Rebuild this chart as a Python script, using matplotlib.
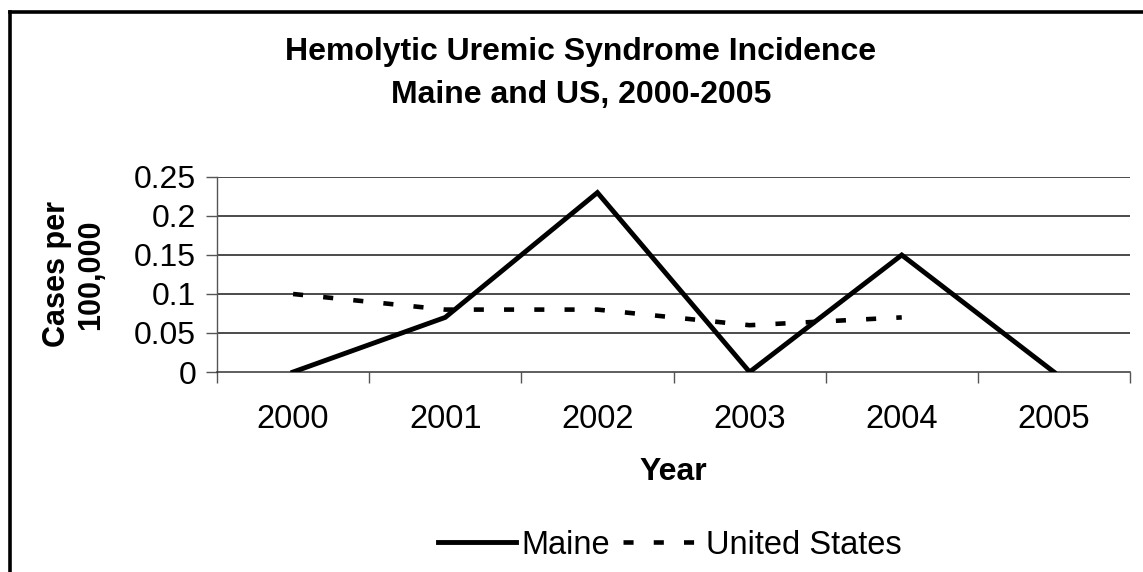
import matplotlib
matplotlib.use("Agg")
import matplotlib.pyplot as plt
from matplotlib.lines import Line2D

# data
years = ["2000", "2001", "2002", "2003", "2004", "2005"]
maine = [0.0, 0.07, 0.23, 0.0, 0.15, 0.0]
us = [0.10, 0.08, 0.08, 0.06, 0.07]
yticks = [0, 0.05, 0.1, 0.15, 0.2, 0.25]
ytick_labels = ["0", "0.05", "0.1", "0.15", "0.2", "0.25"]

plt.rcParams['font.family'] = ['Liberation Sans', 'DejaVu Sans']

fig = plt.figure(figsize=(11.43, 5.72), dpi=100)
ax = fig.add_axes([217/1143, 1-372/572, (1130-217)/1143, (372-177)/572])

x = list(range(len(years)))
ax.plot(x, maine, color='black', lw=3.5, solid_joinstyle='miter', label='Maine', zorder=3)
ax.plot(x[:len(us)], us, color='black', lw=3.3, dashes=(2.2, 4.4),
        dash_capstyle='butt', label='United States', zorder=3)

ax.set_xlim(-0.5, len(years) - 0.5)
ax.set_ylim(0, 0.25)

for y in yticks[1:]:
    ax.axhline(y, color='#1a1a1a', lw=1.1, zorder=1)

ax.set_yticks(yticks)
ax.set_yticklabels(ytick_labels)
ax.set_xticks(x)
ax.set_xticklabels(years)
ax.set_xticks([i - 0.5 for i in range(len(years) + 1)], minor=True)

ax.tick_params(axis='y', direction='out', length=8, width=1, color='#555555',
               labelsize=23, pad=7)
ax.tick_params(axis='x', which='major', length=0, labelsize=23.5, pad=23)
ax.tick_params(axis='x', which='minor', direction='out', length=8, width=1,
               color='#555555')

for side in ['top', 'right']:
    ax.spines[side].set_visible(False)
ax.spines['left'].set_color('#555555')
ax.spines['bottom'].set_color('#333333')
ax.spines['left'].set_linewidth(1)
ax.spines['bottom'].set_linewidth(1.1)

ax.set_ylabel("Cases per\n100,000", fontsize=22, fontweight='bold',
              linespacing=1.2, labelpad=20)
ax.set_xlabel("Year", fontsize=23, fontweight='bold', labelpad=16)

fig.text(581/1143, 1-52/572, "Hemolytic Uremic Syndrome Incidence",
         ha='center', va='center', fontsize=23, fontweight='bold')
fig.text(581/1143, 1-95/572, "Maine and US, 2000-2005",
         ha='center', va='center', fontsize=23, fontweight='bold')

fig.legend(loc='center', bbox_to_anchor=(670/1143, 1-545/572), ncol=2,
           frameon=False, fontsize=23.5, handlelength=2.4, handletextpad=0.15,
           columnspacing=0.4, borderaxespad=0)

# outer frame (left and top edges only visible)
fig.add_artist(Line2D([10/1143, 10/1143], [0, 1-12/572], transform=fig.transFigure,
                      color='black', lw=2.6, solid_capstyle='projecting'))
fig.add_artist(Line2D([10/1143, 1], [1-12/572, 1-12/572], transform=fig.transFigure,
                      color='black', lw=2.6, solid_capstyle='projecting'))

fig.savefig("out.png", dpi=100)
